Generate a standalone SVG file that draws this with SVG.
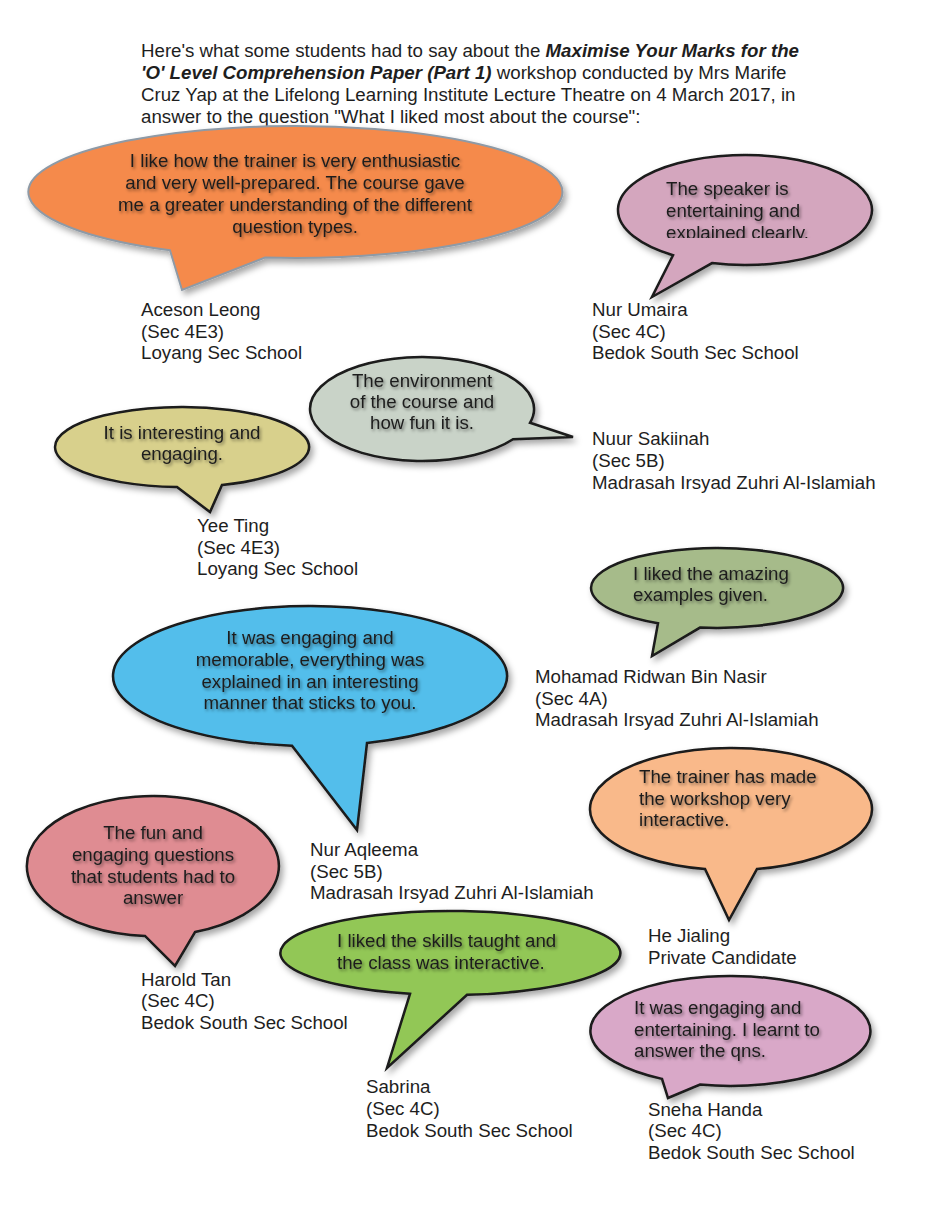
<svg xmlns="http://www.w3.org/2000/svg" width="931" height="1213" viewBox="0 0 931 1213">
<defs>
<filter id="sh" x="-10%" y="-10%" width="125%" height="130%">
<feDropShadow dx="3" dy="4" stdDeviation="3" flood-color="#000" flood-opacity="0.35"/>
</filter>
<filter id="tsh" x="-5%" y="-20%" width="115%" height="160%">
<feDropShadow dx="1.5" dy="2" stdDeviation="1.8" flood-color="#000" flood-opacity="0.45"/>
</filter>
<clipPath id="clip2"><rect x="600" y="150" width="290" height="88"/></clipPath>
</defs>
<style>
text{font-family:"Liberation Sans",Arial,sans-serif;font-size:18.7px;fill:#1e1e1e}
.b{stroke:#1a1a1a;stroke-width:2.5;stroke-linejoin:miter;filter:url(#sh)}
.q{fill:#333;filter:url(#tsh)}
.c{text-anchor:middle}
.bi{font-weight:bold;font-style:italic}
</style>
<rect width="931" height="1213" fill="#fff"/>

<g id="intro">
<text x="141" y="57">Here's what some students had to say about the <tspan class="bi">Maximise Your Marks for the</tspan></text>
<text x="141" y="79"><tspan class="bi">'O' Level Comprehension Paper (Part 1)</tspan> workshop conducted by Mrs Marife</text>
<text x="141" y="101">Cruz Yap at the Lifelong Learning Institute Lecture Theatre on 4 March 2017, in</text>
<text x="141" y="123">answer to the question "What I liked most about the course":</text>
</g>

<g id="connectors"></g>

<g id="aceson">
<path class="b" d="M265,257.6 A267 66 0 1 0 170,250.3 L182,290 Z" fill="#F58A4B" style="stroke:#8E9AA6;stroke-width:2"/>
<g class="q c">
<text x="295" y="167">I like how the trainer is very enthusiastic</text>
<text x="295" y="189">and very well-prepared. The course gave</text>
<text x="295" y="211">me a greater understanding of the different</text>
<text x="295" y="233">question types.</text>
</g>
<text x="141" y="316">Aceson Leong</text>
<text x="141" y="338">(Sec 4E3)</text>
<text x="141" y="359">Loyang Sec School</text>
</g>

<g id="umaira">
<path class="b" d="M712,263.1 A127 55 0 1 0 673,255.3 L652,297 Z" fill="#D4A6BE"/>
<g class="q" clip-path="url(#clip2)">
<text x="666" y="194.5">The speaker is</text>
<text x="666" y="216.5">entertaining and</text>
<text x="666" y="238.5">explained clearly.</text>
</g>
<text x="592" y="316">Nur Umaira</text>
<text x="592" y="338">(Sec 4C)</text>
<text x="592" y="359">Bedok South Sec School</text>
</g>

<g id="sakiinah">
<path class="b" d="M530,422.8 A112 52 0 1 0 513,439.3 L573,437 Z" fill="#C9D3C8"/>
<g class="q c">
<text x="422" y="386.5">The environment</text>
<text x="422" y="407.5">of the course and</text>
<text x="422" y="428.5">how fun it is.</text>
</g>
<text x="592" y="445">Nuur Sakiinah</text>
<text x="592" y="467">(Sec 5B)</text>
<text x="592" y="489">Madrasah Irsyad Zuhri Al-Islamiah</text>
</g>

<g id="yeeting">
<path class="b" d="M222,485 A127 40 0 1 0 177,487 L210,512 Z" fill="#D8D08C"/>
<g class="q c">
<text x="182" y="438.5">It is interesting and</text>
<text x="182" y="459.5">engaging.</text>
</g>
<text x="197" y="532">Yee Ting</text>
<text x="197" y="554">(Sec 4E3)</text>
<text x="197" y="575">Loyang Sec School</text>
</g>

<g id="ridwan">
<path class="b" d="M700,627.6 A126 40 0 1 0 658,623.3 L652,656 Z" fill="#A6BB8A"/>
<g class="q">
<text x="633" y="579.5">I liked the amazing</text>
<text x="633" y="600.5">examples given.</text>
</g>
<text x="535" y="683">Mohamad Ridwan Bin Nasir</text>
<text x="535" y="705">(Sec 4A)</text>
<text x="535" y="726">Madrasah Irsyad Zuhri Al-Islamiah</text>
</g>

<g id="aqleema">
<path class="b" d="M367,743 A197 70 0 1 0 292,745.7 L357,830 Z" fill="#53BEEB"/>
<g class="q c">
<text x="310" y="643.5">It was engaging and</text>
<text x="310" y="665.5">memorable, everything was</text>
<text x="310" y="687.5">explained in an interesting</text>
<text x="310" y="708.5">manner that sticks to you.</text>
</g>
<text x="310" y="856">Nur Aqleema</text>
<text x="310" y="878">(Sec 5B)</text>
<text x="310" y="899">Madrasah Irsyad Zuhri Al-Islamiah</text>
</g>

<g id="jialing">
<path class="b" d="M757,869 A141 61 0 1 0 705,869 L729,920 Z" fill="#F9B98A"/>
<g class="q">
<text x="639" y="782.5">The trainer has made</text>
<text x="639" y="804.5">the workshop very</text>
<text x="639" y="825.5">interactive.</text>
</g>
<text x="648" y="942">He Jialing</text>
<text x="648" y="964">Private Candidate</text>
</g>

<g id="harold">
<path class="b" d="M195,932 A126 70 0 1 0 145,935.9 L175,966 Z" fill="#DF8C92"/>
<g class="q c">
<text x="153" y="838.5">The fun and</text>
<text x="153" y="860.5">engaging questions</text>
<text x="153" y="882.5">that students had to</text>
<text x="153" y="903.5">answer</text>
</g>
<text x="141" y="986">Harold Tan</text>
<text x="141" y="1007">(Sec 4C)</text>
<text x="141" y="1029">Bedok South Sec School</text>
</g>

<g id="sabrina">
<path class="b" d="M467,994.8 A170 42 0 1 0 410,993.8 L387,1068 Z" fill="#92C756"/>
<g class="q">
<text x="337" y="946.5">I liked the skills taught and</text>
<text x="337" y="968.5">the class was interactive.</text>
</g>
<text x="366" y="1093">Sabrina</text>
<text x="366" y="1115">(Sec 4C)</text>
<text x="366" y="1137">Bedok South Sec School</text>
</g>

<g id="sneha">
<path class="b" d="M700,1084.6 A140 55 0 1 0 662,1078.9 L668,1098 Z" fill="#D9A8C8"/>
<g class="q">
<text x="634" y="1013.5">It was engaging and</text>
<text x="634" y="1035.5">entertaining. I learnt to</text>
<text x="634" y="1056.5">answer the qns.</text>
</g>
<text x="648" y="1116">Sneha Handa</text>
<text x="648" y="1137">(Sec 4C)</text>
<text x="648" y="1159">Bedok South Sec School</text>
</g>
</svg>
